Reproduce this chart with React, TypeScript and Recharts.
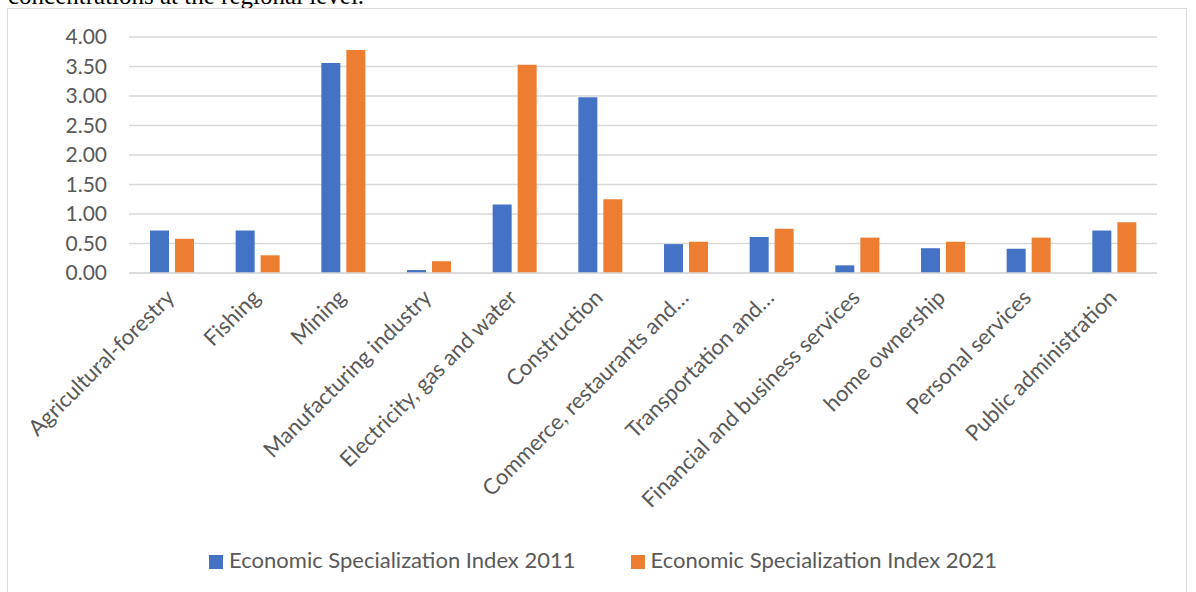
import React from 'react';
import { BarChart, Bar, XAxis, YAxis, CartesianGrid, Legend } from 'recharts';

const categories = [
  'Agricultural-forestry',
  'Fishing',
  'Mining',
  'Manufacturing industry',
  'Electricity, gas and water',
  'Construction',
  'Commerce, restaurants and…',
  'Transportation and…',
  'Financial and business services',
  'home ownership',
  'Personal services',
  'Public administration',
];
const index2011 = [0.72, 0.72, 3.56, 0.05, 1.16, 2.98, 0.49, 0.61, 0.13, 0.42, 0.41, 0.72];
const index2021 = [0.58, 0.3, 3.78, 0.2, 3.53, 1.25, 0.53, 0.75, 0.6, 0.53, 0.6, 0.86];
const yTicks = [0, 0.5, 1, 1.5, 2, 2.5, 3, 3.5, 4];
const seriesNames = ['Economic Specialization Index 2011', 'Economic Specialization Index 2021'];

const data = categories.map((c, i) => ({ name: c, a: index2011[i], b: index2021[i] }));

const FONT = 'Lato, "Open Sans", sans-serif';
const GREY = '#595959';

const CatTick = (props: any) => {
  const { x, y, payload } = props;
  return (
    <g transform={`translate(${x + 4},${y + 18})`}>
      <text
        x={0}
        y={0}
        transform="rotate(-45)"
        textAnchor="end"
        fill={GREY}
        fontSize={22}
        fontFamily={FONT}
      >
        {payload.value}
      </text>
    </g>
  );
};

export default function App() {
  return (
    <div style={{ position: 'absolute', left: 0, top: 0, width: 1196, height: 592, overflow: 'hidden', background: '#fff' }}>
      <div
        style={{
          position: 'absolute',
          left: 8,
          top: -17,
          fontFamily: '"Liberation Serif", serif',
          fontSize: 25,
          lineHeight: '25px',
          whiteSpace: 'nowrap',
          color: '#000',
        }}
      >
        concentrations at the regional level.
      </div>
      <div
        style={{
          position: 'absolute',
          left: 7,
          top: 8,
          width: 1180,
          height: 700,
          border: '1px solid #d9d9d9',
          boxSizing: 'border-box',
        }}
      />
      <div style={{ position: 'absolute', left: 0, top: 0 }}>
        <BarChart
          width={1196}
          height={592}
          data={data}
          margin={{ top: 37, right: 39, left: 59, bottom: 19 }}
          barSize={19}
          barGap={6}
        >
          <CartesianGrid vertical={false} stroke="#d9d9d9" strokeWidth={1.5} />
          <XAxis
            dataKey="name"
            interval={0}
            height={273}
            tickLine={false}
            axisLine={{ stroke: '#d9d9d9', strokeWidth: 1.5 }}
            tick={<CatTick />}
          />
          <YAxis
            width={70}
            domain={[0, 4]}
            ticks={yTicks}
            interval={0}
            tickFormatter={(v: number) => v.toFixed(2)}
            axisLine={false}
            tickLine={false}
            tick={{ fill: GREY, fontSize: 21, fontFamily: FONT }}
            tickMargin={16}
          />
          <Legend
            verticalAlign="bottom"
            align="center"
            iconType="square"
            iconSize={14}
            wrapperStyle={{ fontFamily: FONT, fontSize: 22 }}
            formatter={(value: string, _entry: any, index: number) => (
              <span style={{ color: GREY, marginRight: index === 0 ? 45 : 0, marginLeft: 2 }}>{value}</span>
            )}
          />
          <Bar dataKey="a" name={seriesNames[0]} fill="#4472c4" isAnimationActive={false} />
          <Bar dataKey="b" name={seriesNames[1]} fill="#ed7d31" isAnimationActive={false} />
        </BarChart>
      </div>
    </div>
  );
}
